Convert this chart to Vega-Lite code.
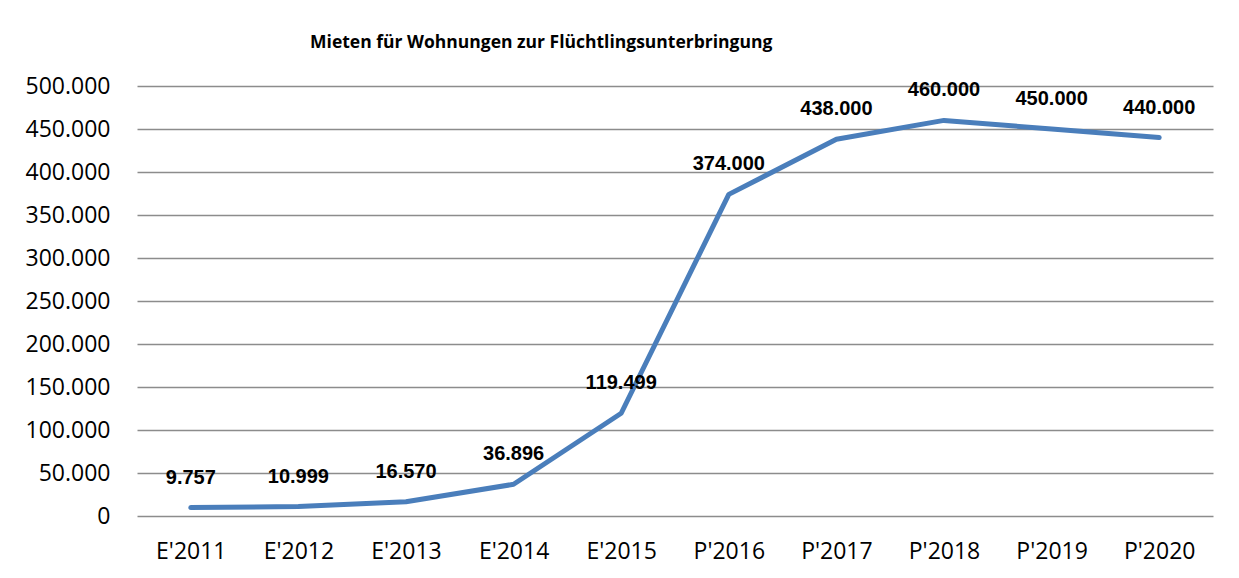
{
  "$schema": "https://vega.github.io/schema/vega-lite/v6.json",
  "width": 1076,
  "height": 430,
  "autosize": {"type": "none"},
  "padding": {"left": 137, "top": 86, "right": 26, "bottom": 62},
  "background": "white",
  "title": {
    "text": "Mieten für Wohnungen zur Flüchtlingsunterbringung",
    "anchor": "start",
    "dx": 285,
    "offset": 24,
    "font": "Open Sans",
    "fontSize": 17.5,
    "fontWeight": "bold",
    "color": "black"
  },
  "data": {
    "values": [
      {"jahr": "E'2011", "wert": 9757},
      {"jahr": "E'2012", "wert": 10999},
      {"jahr": "E'2013", "wert": 16570},
      {"jahr": "E'2014", "wert": 36896},
      {"jahr": "E'2015", "wert": 119499},
      {"jahr": "P'2016", "wert": 374000},
      {"jahr": "P'2017", "wert": 438000},
      {"jahr": "P'2018", "wert": 460000},
      {"jahr": "P'2019", "wert": 450000},
      {"jahr": "P'2020", "wert": 440000}
    ]
  },
  "encoding": {
    "x": {
      "field": "jahr",
      "type": "ordinal",
      "sort": null,
      "scale": {"type": "point", "padding": 0.5},
      "axis": {
        "title": null,
        "domain": false,
        "ticks": false,
        "tickSize": 0,
        "grid": false,
        "labelAngle": 0,
        "labelPadding": 24,
        "labelFont": "Open Sans",
        "labelFontSize": 23,
        "labelColor": "black"
      }
    },
    "y": {
      "field": "wert",
      "type": "quantitative",
      "scale": {"domain": [0, 500000], "nice": false},
      "axis": {
        "title": null,
        "values": [0, 50000, 100000, 150000, 200000, 250000, 300000, 350000, 400000, 450000, 500000],
        "format": ",d",
        "domain": false,
        "ticks": false,
        "tickSize": 0,
        "labelPadding": 27,
        "labelFont": "Open Sans",
        "labelFontSize": 23,
        "labelColor": "black",
        "grid": true,
        "gridColor": "#8c8c8c",
        "gridWidth": 1.5
      }
    }
  },
  "layer": [
    {
      "mark": {"type": "line", "color": "#4a7ebb", "strokeWidth": 5, "strokeCap": "round", "strokeJoin": "round"}
    },
    {
      "mark": {"type": "text", "dy": -30, "font": "Liberation Sans", "fontSize": 20, "fontWeight": "bold", "color": "black"},
      "encoding": {"text": {"field": "wert", "type": "quantitative", "format": ",d"}}
    }
  ],
  "config": {
    "view": {"stroke": null},
    "locale": {"number": {"decimal": ",", "thousands": ".", "grouping": [3], "currency": ["", " €"]}}
  }
}
